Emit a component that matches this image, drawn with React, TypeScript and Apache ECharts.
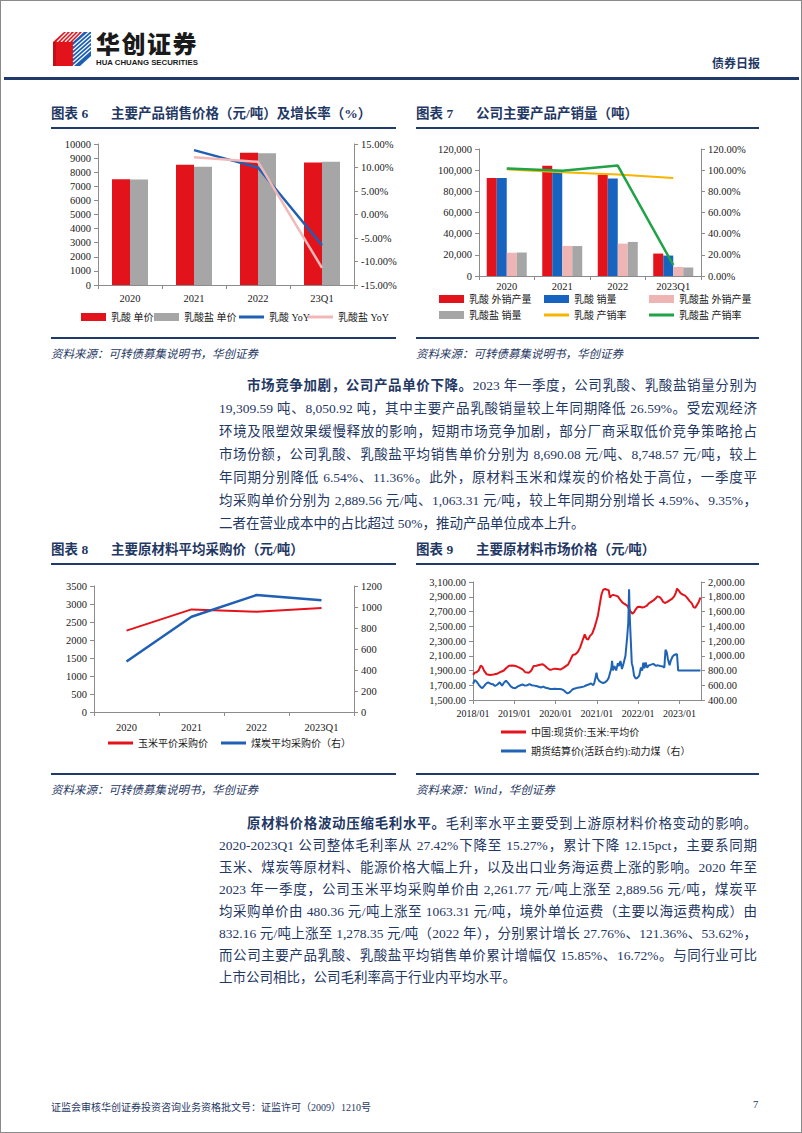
import React, { useEffect, useRef } from "react";
import * as echarts from "echarts";

const SERIF = "'Liberation Serif', 'Times New Roman', 'Noto Sans CJK SC'";
const NAVY = "#1f3864";
const RED = "#e3131b";
const GRAY = "#a6a6a6";
const BLUE = "#1f5fb4";
const PINK = "#f2b8b8";
const YELLOW = "#f7b500";
const GREEN = "#20a347";

// ---------- Chart 6 ----------
const years6 = ["2020", "2021", "2022", "23Q1"];
const lacticPrice = [7500, 8520, 9380, 8690];
const lactatePrice = [7480, 8390, 9340, 8749];
const lacticYoY = [null, 13.7, 10.0, -6.54];
const lactateYoY = [null, 12.2, 11.2, -11.36];

// ---------- Chart 7 ----------
const years7 = ["2020", "2021", "2022", "2023Q1"];
const lacticOutput = [92500, 104200, 95700, 21200];
const lacticSales = [92500, 99500, 92200, 19310];
const lactateOutput = [22000, 28400, 30600, 8500];
const lactateSales = [22200, 28300, 32200, 8051];
const lacticRate = [100.8, 98.0, 95.8, 92.5];
const lactateRate = [101.6, 99.5, 104.3, 10.4];

// ---------- Chart 8 ----------
const years8 = ["2020", "2021", "2022", "2023Q1"];
const cornCost = [2261.77, 2850, 2786, 2889.56];
const coalCost = [480.36, 907, 1114, 1063.31];

// ---------- Chart 9 ----------
const cornMarket: [string, number][] = [
  ["2018-01-02", 1840], ["2018-01-15", 1870], ["2018-02-01", 1875], ["2018-02-20", 1900],
  ["2018-03-10", 1965], ["2018-03-25", 1950], ["2018-04-10", 1895], ["2018-05-01", 1850],
  ["2018-06-01", 1840], ["2018-07-01", 1845], ["2018-08-01", 1855], ["2018-09-01", 1880],
  ["2018-10-01", 1900], ["2018-10-20", 1930], ["2018-11-15", 1965], ["2018-12-15", 1968],
  ["2019-01-15", 1960], ["2019-02-15", 1940], ["2019-03-15", 1915], ["2019-04-10", 1875],
  ["2019-05-10", 1870], ["2019-06-01", 1900], ["2019-06-20", 1960], ["2019-07-15", 1965],
  ["2019-08-15", 1978], ["2019-09-10", 1985], ["2019-10-01", 1960], ["2019-10-20", 1935],
  ["2019-11-10", 1910], ["2019-12-01", 1915], ["2019-12-25", 1925], ["2020-01-20", 1920],
  ["2020-02-15", 1915], ["2020-03-10", 1935], ["2020-04-01", 1960], ["2020-04-20", 1980],
  ["2020-05-10", 2040], ["2020-06-01", 2110], ["2020-06-25", 2120], ["2020-07-15", 2150],
  ["2020-08-05", 2210], ["2020-08-25", 2300], ["2020-09-15", 2390], ["2020-10-01", 2330],
  ["2020-10-15", 2320], ["2020-11-01", 2370], ["2020-11-20", 2400], ["2020-12-10", 2480],
  ["2020-12-25", 2560], ["2021-01-10", 2650], ["2021-01-25", 2790], ["2021-02-10", 2930],
  ["2021-02-25", 2995], ["2021-03-15", 3005], ["2021-04-01", 2995], ["2021-04-15", 2990],
  ["2021-04-25", 2890], ["2021-05-10", 2915], ["2021-05-25", 2925], ["2021-06-15", 2915],
  ["2021-07-05", 2905], ["2021-07-25", 2860], ["2021-08-15", 2820], ["2021-09-05", 2800],
  ["2021-09-25", 2780], ["2021-10-10", 2740], ["2021-10-25", 2700], ["2021-11-10", 2670],
  ["2021-11-25", 2690], ["2021-12-10", 2730], ["2021-12-25", 2760], ["2022-01-15", 2765],
  ["2022-02-05", 2755], ["2022-02-25", 2762], ["2022-03-15", 2775], ["2022-04-05", 2810],
  ["2022-04-25", 2830], ["2022-05-15", 2850], ["2022-06-05", 2880], ["2022-06-20", 2905],
  ["2022-07-10", 2895], ["2022-07-25", 2870], ["2022-08-10", 2830], ["2022-08-25", 2815],
  ["2022-09-15", 2830], ["2022-10-05", 2850], ["2022-10-25", 2870], ["2022-11-15", 2905],
  ["2022-12-01", 2960], ["2022-12-10", 3010], ["2022-12-25", 2985], ["2023-01-10", 2950],
  ["2023-01-30", 2930], ["2023-02-20", 2915], ["2023-03-10", 2885], ["2023-03-30", 2845],
  ["2023-04-20", 2810], ["2023-05-05", 2760], ["2023-05-20", 2750], ["2023-06-05", 2790],
  ["2023-06-20", 2830], ["2023-07-05", 2890],
];
const coalFutures: [string, number][] = [
  ["2018-01-02", 620], ["2018-01-15", 670], ["2018-02-01", 650], ["2018-02-20", 610],
  ["2018-03-10", 575], ["2018-03-25", 560], ["2018-04-10", 590], ["2018-04-25", 620],
  ["2018-05-15", 640], ["2018-06-05", 620], ["2018-06-25", 615], ["2018-07-15", 590],
  ["2018-08-05", 610], ["2018-08-25", 640], ["2018-09-15", 595], ["2018-10-05", 640],
  ["2018-10-20", 662], ["2018-11-10", 625], ["2018-12-01", 585], ["2018-12-20", 565],
  ["2019-01-10", 560], ["2019-02-01", 585], ["2019-02-25", 600], ["2019-03-15", 610],
  ["2019-04-05", 595], ["2019-04-25", 600], ["2019-05-15", 615], ["2019-06-05", 600],
  ["2019-06-25", 595], ["2019-07-15", 590], ["2019-08-05", 580], ["2019-08-25", 570],
  ["2019-09-15", 582], ["2019-10-05", 565], ["2019-10-25", 560], ["2019-11-15", 550],
  ["2019-12-05", 548], ["2019-12-25", 552], ["2020-01-15", 548], ["2020-02-05", 550],
  ["2020-02-25", 545], ["2020-03-15", 530], ["2020-04-01", 505], ["2020-04-15", 490],
  ["2020-04-30", 500], ["2020-05-15", 520], ["2020-06-01", 545], ["2020-06-20", 555],
  ["2020-07-10", 565], ["2020-07-30", 570], ["2020-08-20", 575], ["2020-09-10", 585],
  ["2020-09-30", 600], ["2020-10-20", 610], ["2020-11-10", 625], ["2020-11-30", 600],
  ["2020-12-10", 640], ["2020-12-20", 710], ["2020-12-28", 770], ["2021-01-05", 700],
  ["2021-01-20", 660], ["2021-02-10", 640], ["2021-02-25", 630], ["2021-03-15", 640],
  ["2021-04-01", 665], ["2021-04-15", 700], ["2021-04-25", 760], ["2021-05-08", 830],
  ["2021-05-15", 930], ["2021-05-22", 800], ["2021-06-05", 860], ["2021-06-20", 800],
  ["2021-07-05", 900], ["2021-07-15", 860], ["2021-07-28", 930], ["2021-08-10", 820],
  ["2021-08-25", 900], ["2021-09-10", 1000], ["2021-09-25", 1250], ["2021-10-05", 1450],
  ["2021-10-12", 1900], ["2021-10-19", 1500], ["2021-10-26", 1250], ["2021-11-05", 900],
  ["2021-11-15", 840], ["2021-11-25", 730], ["2021-12-10", 690], ["2021-12-25", 700],
  ["2022-01-10", 730], ["2022-01-25", 840], ["2022-02-05", 800], ["2022-02-15", 905],
  ["2022-02-25", 830], ["2022-03-08", 910], ["2022-03-20", 840], ["2022-04-05", 870],
  ["2022-04-25", 880], ["2022-05-15", 890], ["2022-06-05", 865], ["2022-06-25", 870],
  ["2022-07-15", 860], ["2022-08-05", 855], ["2022-08-20", 840], ["2022-08-30", 1080],
  ["2022-09-10", 1050], ["2022-09-20", 960], ["2022-10-05", 870], ["2022-10-15", 930],
  ["2022-11-01", 990], ["2022-11-15", 1010], ["2022-12-01", 1020], ["2022-12-10", 1020],
  ["2022-12-20", 800], ["2023-01-15", 800], ["2023-03-01", 800], ["2023-05-01", 800],
  ["2023-07-05", 800],
];

// ---------- Page text ----------
const para1Lead = "市场竞争加剧，公司产品单价下降。";
const para1 = [
  "2023 年一季度，公司乳酸、乳酸盐销量分别为",
  "19,309.59 吨、8,050.92 吨，其中主要产品乳酸销量较上年同期降低 26.59%。受宏观经济",
  "环境及限塑效果缓慢释放的影响，短期市场竞争加剧，部分厂商采取低价竞争策略抢占",
  "市场份额，公司乳酸、乳酸盐平均销售单价分别为 8,690.08 元/吨、8,748.57 元/吨，较上",
  "年同期分别降低 6.54%、11.36%。此外，原材料玉米和煤炭的价格处于高位，一季度平",
  "均采购单价分别为 2,889.56 元/吨、1,063.31 元/吨，较上年同期分别增长 4.59%、9.35%，",
  "二者在营业成本中的占比超过 50%，推动产品单位成本上升。",
];
const para2Lead = "原材料价格波动压缩毛利水平。";
const para2 = [
  "毛利率水平主要受到上游原材料价格变动的影响。",
  "2020-2023Q1 公司整体毛利率从 27.42%下降至 15.27%，累计下降 12.15pct，主要系同期",
  "玉米、煤炭等原材料、能源价格大幅上升，以及出口业务海运费上涨的影响。2020 年至",
  "2023 年一季度，公司玉米平均采购单价由 2,261.77 元/吨上涨至 2,889.56 元/吨，煤炭平",
  "均采购单价由 480.36 元/吨上涨至 1063.31 元/吨，境外单位运费（主要以海运费构成）由",
  "832.16 元/吨上涨至 1,278.35 元/吨（2022 年），分别累计增长 27.76%、121.36%、53.62%，",
  "而公司主要产品乳酸、乳酸盐平均销售单价累计增幅仅 15.85%、16.72%。与同行业可比",
  "上市公司相比，公司毛利率高于行业内平均水平。",
];

// ---------- shared styles ----------
const axisLine = { show: true, onZero: false, lineStyle: { color: "#8c8c8c", width: 1 } };
const axisTick = { show: true, length: 4, inside: false, lineStyle: { color: "#8c8c8c" } };
const numLabel = { color: "#1a1a1a", fontFamily: SERIF, fontSize: 10.5, margin: 7 };
const legendText = { color: "#1a1a1a", fontFamily: SERIF, fontSize: 10 };
const noSplit = { show: false };

const leg = (name: string, left: number, cy: number, isLine: boolean) => ({
  data: [name],
  left,
  top: cy - 7,
  orient: "horizontal",
  itemWidth: 25,
  itemHeight: isLine ? 3 : 8,
  icon: "rect",
  itemGap: 0,
  padding: 0,
  textStyle: legendText,
  selectedMode: false,
});

const gridBase = { containLabel: false, outerBoundsMode: "none" };
const plain = (v: number) => String(v);
const pct = (v: number) => v.toFixed(2) + "%";
const comma = (v: number) => v.toLocaleString("en-US");
const comma2 = (v: number) =>
  v.toLocaleString("en-US", { minimumFractionDigits: 2, maximumFractionDigits: 2 });

const option6 = {
  animation: false,
  grid: { ...gridBase, left: 57, right: 47, top: 13, bottom: 46 },
  xAxis: {
    type: "category",
    data: years6,
    axisLine,
    axisTick,
    axisLabel: { ...numLabel, margin: 8 },
    splitLine: noSplit,
  },
  yAxis: [
    {
      type: "value", min: 0, max: 10000, interval: 1000, axisLine, axisTick,
      axisLabel: { ...numLabel, formatter: plain }, splitLine: noSplit,
    },
    {
      type: "value", min: -15, max: 15, interval: 5, position: "right",
      axisLine, axisTick, axisLabel: { ...numLabel, formatter: pct }, splitLine: noSplit,
    },
  ],
  legend: [
    leg("乳酸 单价", 40, 188, false),
    leg("乳酸盐 单价", 113, 188, false),
    leg("乳酸 YoY", 198, 188, true),
    leg("乳酸盐 YoY", 267, 188, true),
  ],
  series: [
    { name: "乳酸 单价", type: "bar", data: lacticPrice, barWidth: 18, barGap: "0%", itemStyle: { color: RED } },
    { name: "乳酸盐 单价", type: "bar", data: lactatePrice, barWidth: 18, barGap: "0%", itemStyle: { color: GRAY } },
    {
      name: "乳酸 YoY", type: "line", yAxisIndex: 1, data: lacticYoY, symbol: "none",
      lineStyle: { width: 2.5, color: BLUE }, itemStyle: { color: BLUE },
    },
    {
      name: "乳酸盐 YoY", type: "line", yAxisIndex: 1, data: lactateYoY, symbol: "none",
      lineStyle: { width: 2.5, color: PINK }, itemStyle: { color: PINK },
    },
  ],
};

const option7 = {
  animation: false,
  grid: { ...gridBase, left: 68, right: 70, top: 18, bottom: 55 },
  xAxis: {
    type: "category", data: years7, axisLine, axisTick,
    axisLabel: { ...numLabel, margin: 5 }, splitLine: noSplit,
  },
  yAxis: [
    {
      type: "value", min: 0, max: 120000, interval: 20000, axisLine, axisTick,
      axisLabel: { ...numLabel, formatter: comma }, splitLine: noSplit,
    },
    {
      type: "value", min: 0, max: 120, interval: 20, position: "right", axisLine, axisTick,
      axisLabel: { ...numLabel, formatter: pct }, splitLine: noSplit,
    },
  ],
  legend: [
    leg("乳酸 外销产量", 28, 170, false),
    leg("乳酸 销量", 133, 170, false),
    leg("乳酸盐 外销产量", 238, 170, false),
    leg("乳酸盐 销量", 28, 186, false),
    leg("乳酸 产销率", 133, 186, true),
    leg("乳酸盐 产销率", 238, 186, true),
  ],
  series: [
    { name: "乳酸 外销产量", type: "bar", data: lacticOutput, barWidth: 10, barGap: "0%", itemStyle: { color: RED } },
    { name: "乳酸 销量", type: "bar", data: lacticSales, barWidth: 10, barGap: "0%", itemStyle: { color: "#1664c0" } },
    { name: "乳酸盐 外销产量", type: "bar", data: lactateOutput, barWidth: 10, barGap: "0%", itemStyle: { color: "#efb4b4" } },
    { name: "乳酸盐 销量", type: "bar", data: lactateSales, barWidth: 10, barGap: "0%", itemStyle: { color: GRAY } },
    {
      name: "乳酸 产销率", type: "line", yAxisIndex: 1, data: lacticRate, symbol: "none",
      lineStyle: { width: 2, color: YELLOW }, itemStyle: { color: YELLOW },
    },
    {
      name: "乳酸盐 产销率", type: "line", yAxisIndex: 1, data: lactateRate, symbol: "none",
      lineStyle: { width: 2.5, color: GREEN }, itemStyle: { color: GREEN },
    },
  ],
};

const option8 = {
  animation: false,
  grid: { ...gridBase, left: 53, right: 47, top: 15, bottom: 59 },
  xAxis: {
    type: "category", data: years8, axisLine, axisTick,
    axisLabel: { ...numLabel, margin: 10 }, splitLine: noSplit,
  },
  yAxis: [
    {
      type: "value", min: 0, max: 3500, interval: 500, axisLine, axisTick,
      axisLabel: { ...numLabel, formatter: plain }, splitLine: noSplit,
    },
    {
      type: "value", min: 0, max: 1200, interval: 200, position: "right", axisLine, axisTick,
      axisLabel: { ...numLabel, formatter: plain }, splitLine: noSplit,
    },
  ],
  legend: [
    leg("玉米平价采购价", 67, 174, true),
    leg("煤炭平均采购价（右）", 180, 174, true),
  ],
  series: [
    {
      name: "玉米平价采购价", type: "line", data: cornCost, symbol: "none",
      lineStyle: { width: 2, color: RED }, itemStyle: { color: RED },
    },
    {
      name: "煤炭平均采购价（右）", type: "line", yAxisIndex: 1, data: coalCost, symbol: "none",
      lineStyle: { width: 2.5, color: BLUE }, itemStyle: { color: BLUE },
    },
  ],
};

const DAY = 24 * 3600 * 1000;
const option9 = {
  animation: false,
  grid: { ...gridBase, left: 62, right: 70, top: 11, bottom: 71 },
  xAxis: {
    type: "time",
    min: "2018-01-01",
    max: "2023-07-10",
    splitNumber: 6,
    minInterval: 300 * DAY,
    maxInterval: 400 * DAY,
    boundaryGap: false,
    axisLine,
    axisTick,
    axisLabel: {
      ...numLabel,
      fontSize: 10,
      margin: 8,
      showMinLabel: true,
      hideOverlap: false,
      formatter: (v: number) => {
        const d = new Date(v);
        return d.getFullYear() + "/" + String(d.getMonth() + 1).padStart(2, "0");
      },
    },
    splitLine: noSplit,
  },
  yAxis: [
    {
      type: "value", min: 1500, max: 3100, interval: 200, axisLine, axisTick,
      axisLabel: { ...numLabel, formatter: comma2 }, splitLine: noSplit,
    },
    {
      type: "value", min: 400, max: 2000, interval: 200, position: "right", axisLine, axisTick,
      axisLabel: { ...numLabel, formatter: comma2 }, splitLine: noSplit,
    },
  ],
  legend: [
    leg("中国:现货价:玉米:平均价", 90, 163, true),
    leg("期货结算价(活跃合约):动力煤（右）", 90, 182, true),
  ],
  series: [
    {
      name: "中国:现货价:玉米:平均价", type: "line", data: cornMarket, symbol: "none",
      lineStyle: { width: 2, color: RED }, itemStyle: { color: RED },
    },
    {
      name: "期货结算价(活跃合约):动力煤（右）", type: "line", yAxisIndex: 1, data: coalFutures,
      symbol: "none", lineStyle: { width: 2, color: "#1f63b5" }, itemStyle: { color: "#1f63b5" },
    },
  ],
};

function EChart({ option, left, top, width, height }: any) {
  const ref = useRef<HTMLDivElement>(null);
  useEffect(() => {
    const chart = echarts.init(ref.current as HTMLDivElement, null, { renderer: "svg" });
    chart.setOption(option as any);
    return () => chart.dispose();
  }, []);
  return <div ref={ref} style={{ position: "absolute", left, top, width, height }} />;
}

const abs = (left: number, top: number, extra: any = {}) => ({ position: "absolute" as const, left, top, ...extra });

function Title({ left, top, num, text }: any) {
  return (
    <div style={abs(left, top, { fontSize: 13.5, fontWeight: 700, color: NAVY, whiteSpace: "nowrap", lineHeight: "16px" })}>
      <span style={{ display: "inline-block", width: 60 }}>图表 {num}</span>
      <span>{text}</span>
    </div>
  );
}

function Rule({ left, top, width, h = 2 }: any) {
  return <div style={abs(left, top, { width, height: h, background: "#1f3a6b" })} />;
}

function Source({ left, top, text }: any) {
  return (
    <div style={abs(left, top, { fontSize: 11.5, fontStyle: "italic", color: NAVY, whiteSpace: "nowrap" })}>{text}</div>
  );
}

function Para({ lead, lines, top, step }: any) {
  return (
    <>
      {lines.map((ln: string, i: number) => {
        const last = i === lines.length - 1;
        return (
          <div
            key={i}
            style={abs(i === 0 ? 246 : 218, top + i * step - 11, {
              width: i === 0 ? 510 : 538,
              height: 22,
              lineHeight: "22px",
              fontSize: 13.5,
              color: NAVY,
              whiteSpace: "nowrap",
              textAlign: last ? "left" : "justify",
              textAlignLast: last ? "left" : "justify",
            })}
          >
            {i === 0 ? <b style={{ fontWeight: 700 }}>{lead}</b> : null}
            {ln}
          </div>
        );
      })}
    </>
  );
}

function Logo() {
  return (
    <svg width={42} height={38} viewBox="0 0 42 38" style={abs(50, 29)}>
      <polygon points="2,12 13,2 33,2 22,12" fill="#e3131b" />
      {[0, 1, 2, 3, 4, 5].map((k) => (
        <line key={k} x1={6 + k * 4} y1={12} x2={16 + k * 4} y2={2} stroke="#fff" strokeWidth={1.2} />
      ))}
      <rect x={2} y={12} width={20} height={24} fill="#e3131b" />
      <polygon points="22,12 33,2 40,2 40,26 29,36 22,36" fill="#1d5fb3" />
      {[0, 1, 2, 3, 4, 5].map((k) => (
        <line key={"b" + k} x1={22} y1={16 + k * 4} x2={40} y2={k * 4} stroke="#fff" strokeWidth={1.1} />
      ))}
      <polygon points="2,12 5,12 5,36 2,36" fill="#c40f17" />
    </svg>
  );
}

export default function App() {
  return (
    <div
      style={{
        position: "absolute",
        left: 0,
        top: 0,
        width: 802,
        height: 1133,
        boxSizing: "border-box",
        border: "1px solid #8a8a8a",
        background: "#fff",
        overflow: "hidden",
        fontFamily: SERIF,
      }}
    >
      <Logo />
      <div style={abs(95, 30, { fontSize: 24, fontWeight: 900, color: "#1a1a1a", letterSpacing: 1.5, fontFamily: "'Noto Sans CJK SC'", lineHeight: "24px", height: 24 })}>
        华创证券
      </div>
      <div style={abs(95, 57, { fontSize: 7.8, fontWeight: 700, color: "#1a1a1a", fontFamily: "'Liberation Sans', Arial", whiteSpace: "nowrap", lineHeight: "9px" })}>
        HUA CHUANG SECURITIES
      </div>
      <div style={abs(711, 55, { fontSize: 12, fontWeight: 700, color: NAVY, lineHeight: "16px" })}>债券日报</div>
      <div style={abs(3, 76, { width: 795, height: 3, background: "#1f3a6b" })} />

      <Title left={50} top={105} num="6" text="主要产品销售价格（元/吨）及增长率（%）" />
      <Title left={415} top={105} num="7" text="公司主要产品产销量（吨）" />
      <Rule left={50} top={126} width={345} />
      <Rule left={415} top={126} width={343} />

      <EChart option={option6} left={40} top={130} width={360} height={200} />
      <EChart option={option7} left={410} top={130} width={360} height={200} />

      <Rule left={50} top={336} width={345} h={1.5} />
      <Rule left={415} top={336} width={343} h={1.5} />
      <Source left={50} top={344} text="资料来源：可转债募集说明书，华创证券" />
      <Source left={415} top={344} text="资料来源：可转债募集说明书，华创证券" />

      <Para lead={para1Lead} lines={para1} top={385} step={23} />

      <Title left={50} top={541} num="8" text="主要原材料平均采购价（元/吨）" />
      <Title left={415} top={541} num="9" text="主要原材料市场价格（元/吨）" />
      <Rule left={50} top={562} width={345} />
      <Rule left={415} top={562} width={343} />

      <EChart option={option8} left={40} top={570} width={360} height={200} />
      <EChart option={option9} left={410} top={570} width={360} height={200} />

      <Rule left={50} top={772} width={345} h={1.5} />
      <Rule left={415} top={772} width={343} h={1.5} />
      <Source left={50} top={780} text="资料来源：可转债募集说明书，华创证券" />
      <Source left={415} top={780} text="资料来源：Wind，华创证券" />

      <Para lead={para2Lead} lines={para2} top={823} step={22} />

      <div style={abs(50, 1098, { fontSize: 10, color: NAVY, whiteSpace: "nowrap" })}>
        证监会审核华创证券投资咨询业务资格批文号：证监许可（2009）1210号
      </div>
      <div style={abs(752, 1098, { fontSize: 10.5, color: NAVY })}>7</div>
    </div>
  );
}
